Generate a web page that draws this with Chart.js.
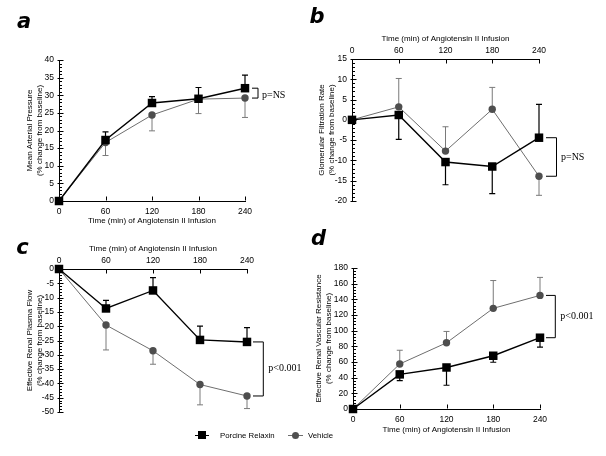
<!DOCTYPE html>
<html>
<head>
<meta charset="utf-8">
<script src="https://cdn.jsdelivr.net/npm/chart.js@4/dist/chart.umd.min.js"></script>
<style>
html,body{margin:0;padding:0;background:#fff;}
#wrap{position:relative;width:606px;height:456px;overflow:hidden;background:#fff;}
#wrap canvas{position:absolute;left:0;top:0;}
.letter{position:absolute;font:italic bold 21px "DejaVu Sans",sans-serif;color:#000;transform:translate(-50%,-50%);line-height:1;}
.lg{position:absolute;font:7.8px "Liberation Sans",Arial,sans-serif;color:#000;line-height:1;transform:translateY(-50%);white-space:nowrap;}
.lgline{position:absolute;height:1.4px;background:#000;}
.lgsq{position:absolute;width:8px;height:8px;background:#000;}
.lgci{position:absolute;width:7px;height:7px;border-radius:50%;background:#505050;}
</style>
</head>
<body>
<div id="wrap"></div>
<script>
// ---- data ----
const times = [0, 60, 120, 180, 240];
const xTickStep = 60;
const seriesNames = ['Porcine Relaxin', 'Vehicle'];
const xTitle = 'Time (min) of Angiotensin II Infusion';

// Panel a: Mean arterial pressure
const aRelaxin    = [0, 17.3, 27.8, 29.0, 32.0];
const aRelaxinErr = [null, 19.6, 29.6, 32.2, 35.7];
const aVehicle    = [0, 16.6, 24.4, 28.9, 29.2];
const aVehicleErr = [null, 12.9, 19.9, 24.8, 23.7];
const aYTitle = ['Mean Arterial Pressure', '(% change from baseline)'];
const aP = 'p=NS';

// Panel b: Glomerular filtration rate
const bRelaxin    = [0, 1.2, -10.4, -11.5, -4.4];
const bRelaxinErr = [null, -4.8, -16.0, -18.2, 3.8];
const bVehicle    = [0, 3.2, -7.7, 2.6, -13.9];
const bVehicleErr = [null, 10.2, -1.7, 8.0, -18.6];
const bYTitle = ['Glomerular Filtration Rate', '(% change from baseline)'];
const bP = 'p=NS';

// Panel c: Effective renal plasma flow
const cRelaxin    = [0, -13.8, -7.5, -24.8, -25.5];
const cRelaxinErr = [null, -11.0, -3.0, -20.0, -20.5];
const cVehicle    = [0, -19.6, -28.6, -40.4, -44.4];
const cVehicleErr = [null, -28.3, -33.3, -47.5, -48.8];
const cYTitle = ['Effective Renal Plasma Flow', '(% change from baseline)'];
const cP = 'p<0.001';

// Panel d: Effective renal vascular resistance
const dRelaxin    = [0, 44.2, 53.0, 68.0, 91.0];
const dRelaxinErr = [null, 36.3, 30.3, 59.7, 78.9];
const dVehicle    = [0, 57.5, 84.5, 128.5, 145.0];
const dVehicleErr = [null, 75, 99, 164, 168];
const dYTitle = ['Effective Renal Vascular Resistance', '(% change from baseline)'];
const dP = 'p<0.001';

// ---- layout / style ----
const VEH_FILL = '#4e4e4e', VEH_LINE = '#6e6e6e', VEH_ERR = '#7a7a7a';
const panels = [
  {id:'a', area:{l:59,r:245,t:60,b:201}, xPos:'bottom', yMin:0, yMax:40, yStep:5, yMinor:1,
   yTitle:aYTitle, yTitleX:29.5, xTitleY:220.5, rel:aRelaxin, relErr:aRelaxinErr, veh:aVehicle, vehErr:aVehicleErr,
   p:aP, br:{start:7, vert:13, gap:4, dy:2}, letter:[24,21]},
  {id:'b', area:{l:352,r:539,t:59,b:201}, xPos:'top', yMin:-20, yMax:15, yStep:5, yMinor:1,
   yTitle:bYTitle, yTitleX:321.5, xTitleY:39, rel:bRelaxin, relErr:bRelaxinErr, veh:bVehicle, vehErr:bVehicleErr,
   p:bP, br:{start:7, vert:17.5, gap:4.5, dy:0}, letter:[317,16]},
  {id:'c', area:{l:59,r:247,t:269,b:412}, xPos:'top', yMin:-50, yMax:0, yStep:5, yMinor:1,
   yTitle:cYTitle, yTitleX:29.5, xTitleY:249, rel:cRelaxin, relErr:cRelaxinErr, veh:cVehicle, vehErr:cVehicleErr,
   p:cP, br:{start:6, vert:16.3, gap:5, dy:-1}, letter:[22.5,247]},
  {id:'d', area:{l:353,r:540,t:268,b:409}, xPos:'bottom', yMin:0, yMax:180, yStep:20, yMinor:4,
   yTitle:dYTitle, yTitleX:319, xTitleY:430, rel:dRelaxin, relErr:dRelaxinErr, veh:dVehicle, vehErr:dVehicleErr,
   p:dP, br:{start:6, vert:15.3, gap:5, dy:0}, letter:[318.5,237.5]}
];
const panelById = {};
panels.forEach(p => panelById['cv_' + p.id] = p);

const extras = {
  id: 'extras',
  beforeDatasetsDraw(chart) {
    const P = panelById[chart.canvas.id];
    const ctx = chart.ctx, xs = chart.scales.x, ys = chart.scales.y;
    ctx.save();
    const sets = [[P.rel, P.relErr, '#000', 1.2], [P.veh, P.vehErr, VEH_ERR, 1]];
    sets.forEach(([vals, ends, col, w]) => {
      ctx.strokeStyle = col; ctx.lineWidth = w;
      ends.forEach((e, i) => {
        if (e === null) return;
        const px = xs.getPixelForValue(times[i]);
        const p0 = ys.getPixelForValue(vals[i]);
        const p1 = ys.getPixelForValue(e);
        ctx.beginPath();
        ctx.moveTo(px, p0); ctx.lineTo(px, p1);
        ctx.moveTo(px - 3, p1); ctx.lineTo(px + 3, p1);
        ctx.stroke();
      });
    });
    ctx.restore();
  },
  afterDraw(chart) {
    const P = panelById[chart.canvas.id];
    const ctx = chart.ctx, xs = chart.scales.x, ys = chart.scales.y;
    const ca = chart.chartArea;
    ctx.save();
    ctx.strokeStyle = '#000'; ctx.lineWidth = 1;
    const ax = Math.round(ca.left) + 0.5;
    ctx.beginPath();
    ys.ticks.forEach(t => {
      const py = Math.round(ys.getPixelForValue(t.value)) + 0.5;
      ctx.moveTo(ax - 2, py); ctx.lineTo(ax + 4, py);
    });
    const nMinor = Math.round((P.yMax - P.yMin) / P.yMinor);
    for (let k = 0; k <= nMinor; k++) {
      const v = P.yMin + k * P.yMinor;
      if (Math.abs(v % P.yStep) < 1e-9) continue;
      const py = Math.round(ys.getPixelForValue(v)) + 0.5;
      ctx.moveTo(ax, py); ctx.lineTo(ax + 2.5, py);
    }
    const ay = P.xPos === 'top' ? Math.round(ca.top) + 0.5 : Math.round(ca.bottom) - 0.5;
    const dir = P.xPos === 'top' ? 1 : -1;
    xs.ticks.forEach(t => {
      const px = Math.round(xs.getPixelForValue(t.value)) + 0.5;
      ctx.moveTo(px, ay); ctx.lineTo(px, ay + dir * 4);
    });
    ctx.stroke();
    const last = times.length - 1;
    const x240 = xs.getPixelForValue(times[last]);
    const yR = ys.getPixelForValue(P.rel[last]);
    const yV = ys.getPixelForValue(P.veh[last]);
    ctx.beginPath();
    ctx.moveTo(x240 + P.br.start, yR); ctx.lineTo(x240 + P.br.vert, yR);
    ctx.lineTo(x240 + P.br.vert, yV); ctx.lineTo(x240 + P.br.start, yV);
    ctx.stroke();
    ctx.fillStyle = '#000';
    ctx.font = '10px "Liberation Serif", "Times New Roman", serif';
    ctx.textBaseline = 'middle'; ctx.textAlign = 'left';
    ctx.fillText(P.p, x240 + P.br.vert + P.br.gap, (yR + yV) / 2 + P.br.dy);
    ctx.restore();
  }
};

const wrap = document.getElementById('wrap');
const tickFont = {family:'Liberation Sans', size:8.5, lineHeight:1.2};
const titleFont = {family:'Liberation Sans', size:8, lineHeight:1.25};
const Wy = 40, Hx = 30, LH = 8 * 1.25;

panels.forEach(P => {
  const cv = document.createElement('canvas');
  cv.id = 'cv_' + P.id; cv.width = 606; cv.height = 456;
  cv.style.width = '606px'; cv.style.height = '456px';
  wrap.appendChild(cv);
  const isTop = P.xPos === 'top';
  const padding = {
    left: P.area.l - Wy,
    right: 606 - P.area.r,
    top: isTop ? P.area.t - Hx : P.area.t,
    bottom: isTop ? 456 - P.area.b : 456 - P.area.b - Hx
  };
  const xTitlePad = isTop ? {top: P.xTitleY - (P.area.t - Hx) - LH / 2, bottom: 0}
                          : {top: 0, bottom: P.area.b + Hx - LH / 2 - P.xTitleY};
  const yTitlePad = {top: P.yTitleX - (P.area.l - Wy) - LH / 2, bottom: 0};
  new Chart(cv, {
    type: 'line',
    data: {
      datasets: [
        {label: seriesNames[0], data: P.rel.map((v, i) => ({x: times[i], y: v})),
         borderColor: '#000', backgroundColor: '#000', borderWidth: 1.4,
         pointStyle: 'rect', pointRadius: 6, pointBorderWidth: 0, clip: false, tension: 0},
        {label: seriesNames[1], data: P.veh.map((v, i) => ({x: times[i], y: v})),
         borderColor: VEH_LINE, backgroundColor: VEH_FILL, borderWidth: 1,
         pointStyle: 'circle', pointRadius: 3.7, pointBorderWidth: 0, clip: false, tension: 0}
      ]
    },
    options: {
      responsive: false, animation: false, devicePixelRatio: 1, events: [],
      layout: {padding},
      plugins: {legend: {display: false}, tooltip: {enabled: false}},
      scales: {
        x: {type: 'linear', position: P.xPos, min: 0, max: 240,
            afterFit(s) { s.height = Hx; },
            ticks: {stepSize: xTickStep, font: tickFont, color: '#000', padding: isTop ? 3 : 6, maxRotation: 0, autoSkip: false},
            grid: {display: false, drawTicks: false},
            border: {display: true, color: '#000', width: 1},
            title: {display: true, text: xTitle, font: titleFont, color: '#000', padding: xTitlePad}},
        y: {type: 'linear', min: P.yMin, max: P.yMax,
            afterFit(s) { s.width = Wy; },
            ticks: {stepSize: P.yStep, font: tickFont, color: '#000', padding: 5, autoSkip: false},
            grid: {display: false, drawTicks: false},
            border: {display: true, color: '#000', width: 1},
            title: {display: true, text: P.yTitle, font: titleFont, color: '#000', padding: yTitlePad}}
      }
    },
    plugins: [extras]
  });
  const L = document.createElement('div');
  L.className = 'letter'; L.textContent = P.id;
  L.style.left = P.letter[0] + 'px'; L.style.top = P.letter[1] + 'px';
  wrap.appendChild(L);
});

function addEl(cls, css, text) {
  const e = document.createElement('div'); e.className = cls;
  Object.assign(e.style, css); if (text) e.textContent = text; wrap.appendChild(e); return e;
}
addEl('lgline', {left:'195px', top:'434.5px', width:'14px'});
addEl('lgsq', {left:'198px', top:'431px'});
addEl('lg', {left:'220px', top:'436px'}, seriesNames[0]);
addEl('lgline', {left:'288px', top:'434.5px', width:'15px', background:VEH_LINE, height:'1px'});
addEl('lgci', {left:'291.5px', top:'431.5px'});
addEl('lg', {left:'308px', top:'436px'}, seriesNames[1]);
</script>
</body>
</html>
